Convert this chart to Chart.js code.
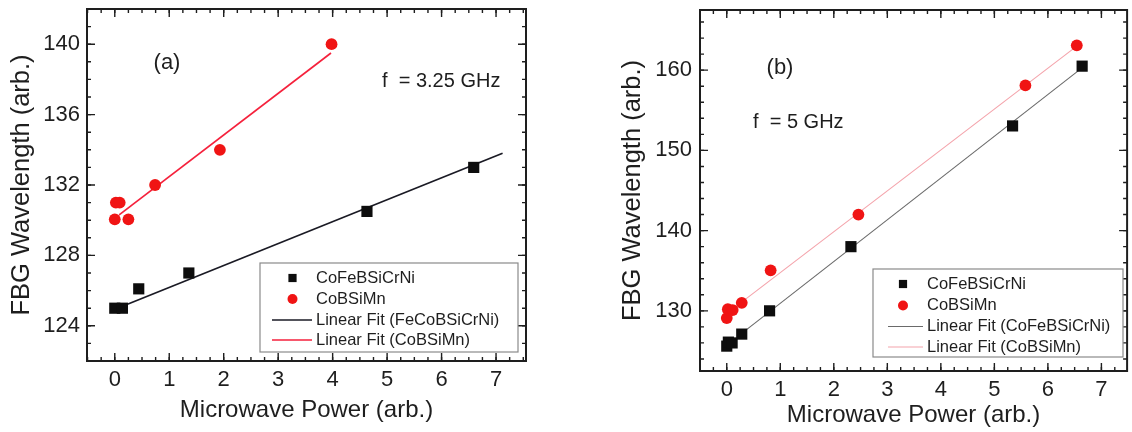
<!DOCTYPE html>
<html>
<head>
<meta charset="utf-8">
<script src="https://cdn.jsdelivr.net/npm/chart.js@4/dist/chart.umd.min.js"></script>
<style>
  html, body { margin: 0; padding: 0; background: #fff; }
  #wrap { position: relative; width: 1132px; height: 432px; overflow: hidden; }
  .panel { position: absolute; top: 0; height: 432px; }
</style>
</head>
<body>
<div id="wrap">
  <div class="panel" style="left:0;width:560px"><canvas id="chartA"></canvas></div>
  <div class="panel" style="left:560px;width:575px"><canvas id="chartB"></canvas></div>
</div>
<script>
// panel (a), f = 3.25 GHz
const powerA_CoFe = [0, 0.14, 0.44, 1.36, 4.63, 6.59];
const waveA_CoFe  = [125, 125, 126.1, 127, 130.5, 133];
const powerA_CoB  = [0, 0.02, 0.09, 0.25, 0.74, 1.93, 3.98];
const waveA_CoB   = [130.05, 131, 131, 130.05, 132, 134, 140];
const fitA_CoFe   = [[0.21, 125.2], [7.12, 133.8]];
const fitA_CoB    = [[0.08, 130.3], [3.97, 139.5]];
const xTicksA = [0, 1, 2, 3, 4, 5, 6, 7];
const yTicksA = [124, 128, 132, 136, 140];

// panel (b), f = 5 GHz
const powerB_CoFe = [0, 0.03, 0.1, 0.28, 0.8, 2.32, 5.34, 6.64];
const waveB_CoFe  = [125.6, 126.1, 126, 127.1, 130, 138, 153.05, 160.5];
const powerB_CoB  = [0, 0.02, 0.11, 0.28, 0.82, 2.46, 5.58, 6.54];
const waveB_CoB   = [129.1, 130.2, 130.1, 131, 135.05, 142, 158.1, 163.1];
const fitB_CoFe   = [[0.34, 127.5], [6.62, 160.2]];
const fitB_CoB    = [[0.34, 131.4], [6.54, 163.0]];
const xTicksB = [0, 1, 2, 3, 4, 5, 6, 7];
const yTicksB = [130, 140, 150, 160];

const FONT = '"Liberation Sans", Arial, sans-serif';
const INK = '#1e1e1e';

const pts = (xs, ys) => xs.map((x, i) => ({ x, y: ys[i] }));
const pairs = (arr) => arr.map(([x, y]) => ({ x, y }));

// box frame with inward major/minor ticks on all four sides
const framePlugin = {
  id: 'frame',
  afterDatasetsDraw(chart, args, opts) {
    const { ctx, chartArea: a, scales: { x, y } } = chart;
    ctx.save();
    ctx.strokeStyle = INK;
    ctx.lineWidth = 1.4;
    const marks = (scale, step, len) => {
      const start = Math.ceil(scale.min / step - 1e-9);
      for (let i = start; i * step <= scale.max + 1e-9; i++) {
        const p = scale.getPixelForValue(i * step);
        ctx.beginPath();
        if (scale.axis === 'x') {
          ctx.moveTo(p, a.bottom); ctx.lineTo(p, a.bottom - len);
          ctx.moveTo(p, a.top); ctx.lineTo(p, a.top + len);
        } else {
          ctx.moveTo(a.left, p); ctx.lineTo(a.left + len, p);
          ctx.moveTo(a.right, p); ctx.lineTo(a.right - len, p);
        }
        ctx.stroke();
      }
    };
    marks(x, opts.xMinor, 4);
    marks(x, opts.xMajor, 8);
    marks(y, opts.yMinor, 4);
    marks(y, opts.yMajor, 8);
    ctx.lineWidth = 2;
    ctx.strokeRect(a.left, a.top, a.right - a.left, a.bottom - a.top);
    ctx.restore();
  }
};

// boxed legend inside the plot plus the panel notes
const notesPlugin = {
  id: 'notes',
  afterDraw(chart, args, opts) {
    const { ctx } = chart;
    const L = opts.legend;
    ctx.save();
    ctx.fillStyle = '#fff';
    ctx.fillRect(L.x, L.y, L.w, L.h);
    ctx.strokeStyle = '#8a8a8a';
    ctx.lineWidth = 1.2;
    ctx.strokeRect(L.x, L.y, L.w, L.h);
    ctx.font = '16.5px ' + FONT;
    ctx.textBaseline = 'middle';
    ctx.textAlign = 'left';
    chart.data.datasets.forEach((ds, i) => {
      const ry = L.rows[i];
      if (ds.showLine) {
        ctx.strokeStyle = ds.borderColor;
        ctx.lineWidth = ds.borderWidth;
        ctx.beginPath();
        ctx.moveTo(L.lineX[0], ry);
        ctx.lineTo(L.lineX[1], ry);
        ctx.stroke();
      } else {
        ctx.fillStyle = ds.backgroundColor;
        ctx.strokeStyle = ds.backgroundColor;
        Chart.helpers.drawPoint(ctx, {
          pointStyle: ds.pointStyle,
          radius: ds.pointStyle === 'rect' ? 5.8 : 5,
          rotation: 0,
          borderWidth: 0
        }, L.symX, ry);
      }
      ctx.fillStyle = INK;
      ctx.fillText(ds.label, L.textX, ry);
    });
    opts.texts.forEach(t => {
      ctx.font = t.size + 'px ' + FONT;
      ctx.textAlign = t.align;
      ctx.fillStyle = INK;
      ctx.fillText(t.text, t.x, t.y);
    });
    ctx.restore();
  }
};

function makePanel(id, cfg) {
  return new Chart(document.getElementById(id), {
    type: 'scatter',
    data: {
      datasets: [
        {
          label: 'CoFeBSiCrNi',
          data: cfg.squares,
          pointStyle: 'rect',
          pointRadius: 7.9,
          backgroundColor: '#0d0d0d',
          borderColor: '#0d0d0d',
          borderWidth: 0,
          order: 0
        },
        {
          label: 'CoBSiMn',
          data: cfg.circles,
          pointStyle: 'circle',
          pointRadius: 5.9,
          backgroundColor: '#f01414',
          borderColor: '#f01414',
          borderWidth: 0,
          order: 0
        },
        {
          label: cfg.fitLabels[0],
          data: cfg.fitBlack,
          showLine: true,
          pointRadius: 0,
          borderColor: cfg.blackLine,
          borderWidth: cfg.lineWidth,
          order: 1
        },
        {
          label: cfg.fitLabels[1],
          data: cfg.fitRed,
          showLine: true,
          pointRadius: 0,
          borderColor: cfg.redLine,
          borderWidth: cfg.lineWidth,
          order: 1
        }
      ]
    },
    options: {
      responsive: true,
      maintainAspectRatio: false,
      animation: false,
      layout: { padding: cfg.padding },
      plugins: {
        legend: { display: false },
        tooltip: { enabled: false },
        frame: cfg.frame,
        notes: { legend: cfg.legend, texts: cfg.texts }
      },
      scales: {
        x: {
          type: 'linear',
          min: cfg.xRange[0],
          max: cfg.xRange[1],
          afterBuildTicks: s => { s.ticks = cfg.xTicks.map(v => ({ value: v })); },
          afterFit: s => { s.height = cfg.xHeight; s.paddingLeft = 0; s.paddingRight = 0; },
          grid: { display: false, drawTicks: false },
          border: { display: false },
          ticks: { color: INK, padding: 6, font: { family: FONT, size: 22 } },
          title: {
            display: true,
            text: 'Microwave Power (arb.)',
            color: INK,
            font: { family: FONT, size: 24 },
            padding: { top: 0, bottom: cfg.xTitlePad }
          }
        },
        y: {
          type: 'linear',
          min: cfg.yRange[0],
          max: cfg.yRange[1],
          afterBuildTicks: s => { s.ticks = cfg.yTicks.map(v => ({ value: v })); },
          afterFit: s => { s.width = cfg.yWidth; s.paddingTop = 0; s.paddingBottom = 0; },
          grid: { display: false, drawTicks: false },
          border: { display: false },
          ticks: { color: INK, padding: cfg.yTickPad, font: { family: FONT, size: 22 } },
          title: {
            display: true,
            text: 'FBG Wavelength (arb.)',
            color: INK,
            font: { family: FONT, size: 25.5 },
            padding: { top: cfg.yTitlePad, bottom: 0 }
          }
        }
      }
    },
    plugins: [framePlugin, notesPlugin]
  });
}

makePanel('chartA', {
  squares: pts(powerA_CoFe, waveA_CoFe),
  circles: pts(powerA_CoB, waveA_CoB),
  fitBlack: pairs(fitA_CoFe),
  fitRed: pairs(fitA_CoB),
  fitLabels: ['Linear Fit (FeCoBSiCrNi)', 'Linear Fit (CoBSiMn)'],
  blackLine: '#1a1a24',
  redLine: '#f5213c',
  lineWidth: 1.7,
  xRange: [-0.51, 7.55],
  yRange: [122, 142],
  xTicks: xTicksA,
  yTicks: yTicksA,
  padding: { left: 0, right: 34, top: 9, bottom: 0 },
  xHeight: 71,
  yWidth: 87,
  yTickPad: 7,
  xTitlePad: 7.6,
  yTitlePad: 6.7,
  frame: { xMajor: 1, xMinor: 0.25, yMajor: 4, yMinor: 1 },
  legend: {
    x: 260, y: 263, w: 258, h: 89,
    rows: [278, 299, 320, 340],
    symX: 292.5, lineX: [272, 312], textX: 316
  },
  texts: [
    { text: '(a)', x: 167, y: 63, size: 22, align: 'center' },
    { text: 'f  = 3.25 GHz', x: 382, y: 81, size: 20, align: 'left' }
  ]
});

makePanel('chartB', {
  squares: pts(powerB_CoFe, waveB_CoFe),
  circles: pts(powerB_CoB, waveB_CoB),
  fitBlack: pairs(fitB_CoFe),
  fitRed: pairs(fitB_CoB),
  fitLabels: ['Linear Fit (CoFeBSiCrNi)', 'Linear Fit (CoBSiMn)'],
  blackLine: '#6a6a6a',
  redLine: '#f4a3ab',
  lineWidth: 1.1,
  xRange: [-0.5, 7.48],
  yRange: [122.5, 167.5],
  xTicks: xTicksB,
  yTicks: yTicksB,
  padding: { left: 0, right: 1, top: 10, bottom: 0 },
  xHeight: 61,
  yWidth: 140,
  yTickPad: 8,
  xTitlePad: 2,
  yTitlePad: 58,
  frame: { xMajor: 1, xMinor: 0.25, yMajor: 10, yMinor: 2 },
  legend: {
    x: 313, y: 269, w: 250, h: 88,
    rows: [284, 305.5, 326.5, 347],
    symX: 343, lineX: [328, 363], textX: 367
  },
  texts: [
    { text: '(b)', x: 220, y: 68, size: 22, align: 'center' },
    { text: 'f  = 5 GHz', x: 193, y: 122, size: 20, align: 'left' }
  ]
});
</script>
</body>
</html>
